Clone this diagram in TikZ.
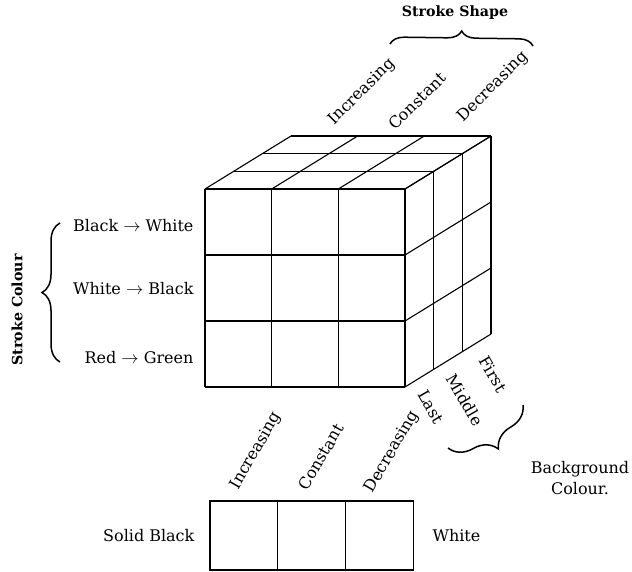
\documentclass[tikz,border=0pt]{standalone}
\usepackage{fontspec}
\setmainfont{DejaVu Serif}
\usepackage{tikz}
\usetikzlibrary{positioning, decorations.pathreplacing}

\begin{document}
\begin{tikzpicture}[x=1pt, y=-1pt, line width=1.1pt,
    lbl/.style={font=\fontsize{16}{21}\selectfont, inner sep=1pt},
    head/.style={font=\fontsize{14.2}{17}\selectfont\bfseries, inner sep=1pt},
    cell/.style={draw, minimum width=67.7pt, minimum height=69pt, inner sep=0pt, outer sep=0pt},
    brc/.style={decorate, decoration={brace, amplitude=#1}, line width=1.5pt}]
  \useasboundingbox (0,0) rectangle (632,571);
  % the cube: front face, top face, right face
  \foreach \i in {0,...,3} {
    \draw (205+66.67*\i,189) -- (205+66.67*\i,387);
    \draw (205,189+66*\i) -- (405,189+66*\i);
    \draw (205+66.67*\i,189) -- ++(86,-53);
    \draw (205+28.67*\i,189-17.67*\i) -- ++(200,0);
    \draw (405+28.67*\i,189-17.67*\i) -- ++(0,198);
    \draw (405,189+66*\i) -- ++(86,-53);
  }
  % stroke colour
  \node[lbl, anchor=east] (bw) at (195,226) {Black $\rightarrow$ White};
  \node[lbl, anchor=east] (wb) at (195,289) {White $\rightarrow$ Black};
  \node[lbl, anchor=east] (rg) at (195,358) {Red $\rightarrow$ Green};
  \coordinate (colB) at (60,362);
  \coordinate (colT) at (60,223);
  \draw[brc=18pt] (colB) -- (colT);
  \node[head, rotate=90] (colour) at (17,310) {Stroke Colour};
  % stroke shape
  \node[lbl, rotate=45] (incT) at (362,92) {Increasing};
  \node[lbl, rotate=45] (conT) at (417,101) {Constant};
  \node[lbl, rotate=45] (decT) at (493,87) {Decreasing};
  \coordinate (shapeL) at (390,44);
  \coordinate (shapeR) at (533,46);
  \draw[brc=14pt] (shapeL) -- (shapeR);
  \node[head] (shape) at (455,13) {Stroke Shape};
  % background colour
  \node[lbl, rotate=-60] (first) at (493,374) {First};
  \node[lbl, rotate=-60] (middle) at (465,400) {Middle};
  \node[lbl, rotate=-60] (last) at (431,407) {Last};
  \coordinate (bgR) at (523,405);
  \coordinate (bgL) at (448,448);
  \draw[brc=26pt] (bgR) -- (bgL);
  \node[lbl, align=center] (bg) at (580,478) {Background\\Colour.};
  % legend row
  \node[cell] (inc) at (243.8,535.5) {};
  \node[cell, right=0pt of inc] (con) {};
  \node[cell, right=0pt of con] (dec) {};
  \node[lbl, left=14pt of inc] (solid) {Solid Black};
  \node[lbl, right=18pt of dec] (white) {White};
  \node[lbl, rotate=60] (incB) at (256,451) {Increasing};
  \node[lbl, rotate=60] (conB) at (321,457) {Constant};
  \node[lbl, rotate=60] (decB) at (392,452) {Decreasing};
\end{tikzpicture}
\end{document}
